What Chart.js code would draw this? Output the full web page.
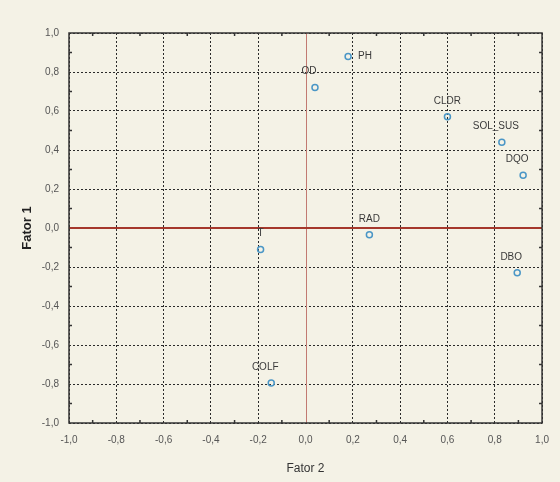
<!DOCTYPE html>
<html>
<head>
<meta charset="utf-8">
<script src="https://cdn.jsdelivr.net/npm/chart.js@4.4.1/dist/chart.umd.min.js"></script>
<style>
  html, body { margin: 0; padding: 0; background: #f4f2e6; }
  #wrap { width: 560px; height: 482px; }
</style>
</head>
<body>
<div id="wrap"><canvas id="chart" width="560" height="482"></canvas></div>
<script>
// --- Data (Fator 2 on x, Fator 1 on y) ---
const variables = ['PH', 'OD', 'CLDR', 'SOL_SUS', 'DQO', 'RAD', 'DBO', 'T', 'COLF'];
const fator2 = [0.18, 0.04, 0.60, 0.83, 0.92, 0.27, 0.895, -0.19, -0.145];
const fator1 = [0.88, 0.72, 0.57, 0.44, 0.27, -0.035, -0.23, -0.11, -0.795];
const axisTicks = [-1.0, -0.8, -0.6, -0.4, -0.2, 0.0, 0.2, 0.4, 0.6, 0.8, 1.0];

// label placement relative to the point (style only)
const labelAlign = ['right', 'aboveLeft', 'above', 'aboveLeft', 'aboveLeft', 'above', 'aboveLeft', 'above', 'aboveLeft'];

const fmt = v => {
    const r = Math.round(v * 10) / 10;
    return (r === 0 ? 0 : r).toFixed(1).replace('.', ',');
};

// frame, minor ticks, red zero lines and point labels
const decor = {
    id: 'decor',
    beforeDatasetsDraw(chart) {
        const { ctx, chartArea: a, scales: { x, y } } = chart;
        ctx.save();
        // zero lines
        ctx.strokeStyle = '#c27a72';
        ctx.lineWidth = 1;
        const x0 = Math.round(x.getPixelForValue(0)) + 0.5;
        ctx.beginPath(); ctx.moveTo(x0, a.top); ctx.lineTo(x0, a.bottom); ctx.stroke();
        ctx.strokeStyle = '#a5382c';
        ctx.lineWidth = 2;
        const y0 = Math.round(y.getPixelForValue(0));
        ctx.beginPath(); ctx.moveTo(a.left, y0); ctx.lineTo(a.right, y0); ctx.stroke();
        // frame
        ctx.strokeStyle = '#333';
        ctx.lineWidth = 1.5;
        ctx.strokeRect(a.left, a.top, a.right - a.left, a.bottom - a.top);
        // minor ticks
        ctx.lineWidth = 1.5;
        ctx.beginPath();
        for (let i = 0; i < axisTicks.length - 1; i++) {
            const v = (axisTicks[i] + axisTicks[i + 1]) / 2;
            const px = x.getPixelForValue(v), py = y.getPixelForValue(v);
            ctx.moveTo(px, a.top); ctx.lineTo(px, a.top + 3);
            ctx.moveTo(px, a.bottom); ctx.lineTo(px, a.bottom - 3);
            ctx.moveTo(a.left, py); ctx.lineTo(a.left + 3, py);
            ctx.moveTo(a.right, py); ctx.lineTo(a.right - 3, py);
        }
        ctx.stroke();
        ctx.restore();
    },
    afterDatasetsDraw(chart) {
        const { ctx } = chart;
        const meta = chart.getDatasetMeta(0);
        ctx.save();
        ctx.font = '10px "Liberation Sans", Arial, sans-serif';
        ctx.fillStyle = '#3a3a3a';
        meta.data.forEach((pt, i) => {
            const mode = labelAlign[i];
            if (mode === 'right') {
                ctx.textAlign = 'left'; ctx.textBaseline = 'middle';
                ctx.fillText(variables[i], pt.x + 10, pt.y);
            } else if (mode === 'aboveLeft') {
                ctx.textAlign = 'center'; ctx.textBaseline = 'bottom';
                ctx.fillText(variables[i], pt.x - 6, pt.y - 11);
            } else {
                ctx.textAlign = 'center'; ctx.textBaseline = 'bottom';
                ctx.fillText(variables[i], pt.x, pt.y - 11);
            }
        });
        ctx.restore();
    }
};

const gridColor = c => (c.tick && c.tick.value === 0) ? 'rgba(0,0,0,0)' : '#2a2a2a';
const tickFont = { family: '"Liberation Sans", Arial, sans-serif', size: 10 };

new Chart(document.getElementById('chart'), {
    type: 'scatter',
    data: {
        datasets: [{
            data: fator2.map((v, i) => ({ x: v, y: fator1[i] })),
            pointStyle: 'circle',
            pointRadius: 3,
            pointBorderWidth: 1.5,
            borderColor: '#4a96c6',
            backgroundColor: 'rgba(255,255,255,0)'
        }]
    },
    plugins: [decor],
    options: {
        responsive: false,
        animation: false,
        layout: { padding: { top: 33, right: 17, left: 0, bottom: 0 } },
        plugins: { legend: { display: false }, tooltip: { enabled: false } },
        scales: {
            x: {
                type: 'linear',
                min: -1, max: 1,
                afterFit: s => { s.height = 59; },
                afterBuildTicks: s => { s.ticks = axisTicks.map(v => ({ value: v })); },
                ticks: { callback: fmt, color: '#555', font: tickFont, padding: 11, maxRotation: 0 },
                grid: { color: gridColor, lineWidth: 1, drawTicks: false },
                border: { display: false, dash: [2, 2] },
                title: {
                    display: true, text: 'Fator 2', color: '#333',
                    font: { family: '"Liberation Sans", Arial, sans-serif', size: 12 },
                    padding: { top: 6, bottom: 6 }
                }
            },
            y: {
                type: 'linear',
                min: -1, max: 1,
                afterFit: s => { s.width = 69; },
                afterBuildTicks: s => { s.ticks = axisTicks.map(v => ({ value: v })); },
                ticks: { callback: fmt, color: '#555', font: tickFont, padding: 10 },
                grid: { color: gridColor, lineWidth: 1, drawTicks: false },
                border: { display: false, dash: [2, 2] },
                title: {
                    display: true, text: 'Fator 1', color: '#222',
                    font: { family: '"Liberation Sans", Arial, sans-serif', size: 13, weight: 'bold' },
                    padding: { top: 20, bottom: 20 }
                }
            }
        }
    }
});
</script>
</body>
</html>
